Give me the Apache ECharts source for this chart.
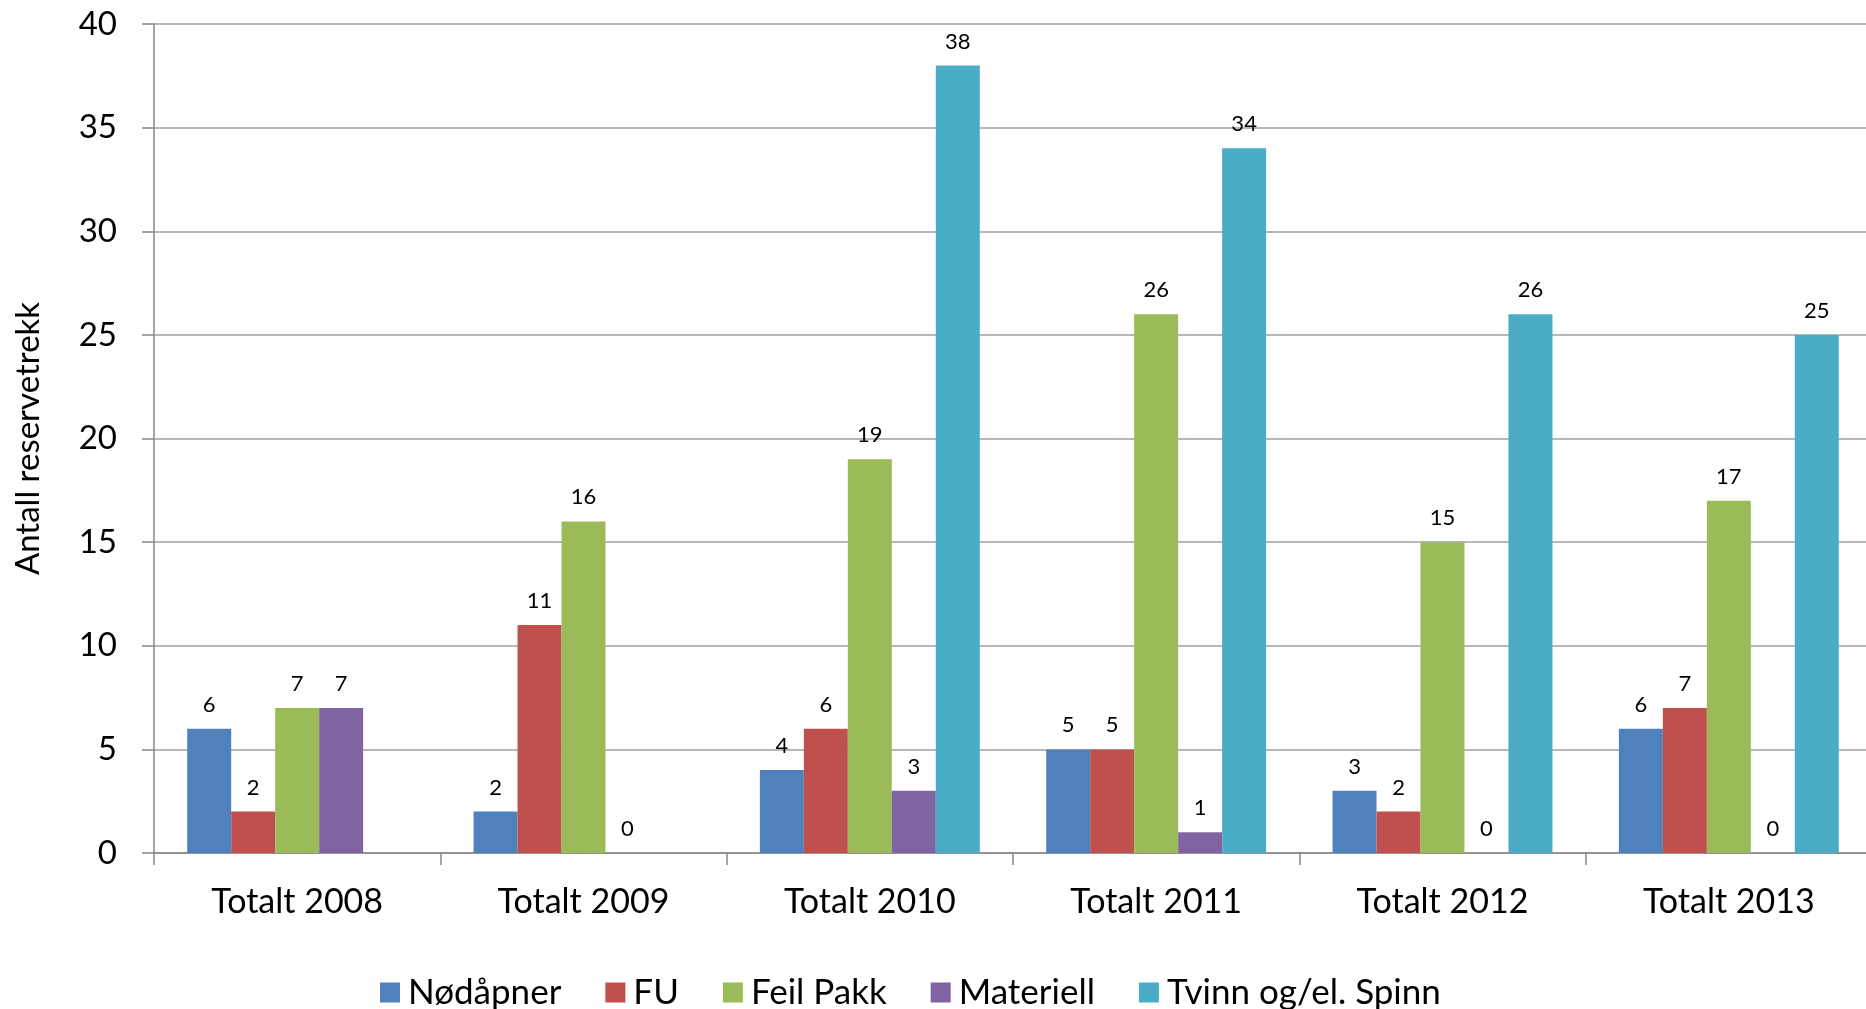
<!DOCTYPE html>
<html>
<head>
<meta charset="utf-8">
<script src="https://cdn.jsdelivr.net/npm/echarts@6/dist/echarts.min.js"></script>
<style>
html,body{margin:0;padding:0;background:#fff;overflow:hidden;}
#c{width:1872px;height:1009px;}
</style>
</head>
<body>
<div id="c"></div>
<script>
const categories = ['Totalt 2008','Totalt 2009','Totalt 2010','Totalt 2011','Totalt 2012','Totalt 2013'];
const seriesNames = ['Nødåpner','FU','Feil Pakk','Materiell','Tvinn og/el. Spinn'];
const nodapner = [6, 2, 4, 5, 3, 6];
const fu = [2, 11, 6, 5, 2, 7];
const feilPakk = [7, 16, 19, 26, 15, 17];
const materiell = [7, 0, 3, 1, 0, 0];
const tvinn = [null, null, 38, 34, 26, 25];
const yTicks = {min: 0, max: 40, interval: 5};
const colors = ['#4F81BD','#C0504D','#9BBB59','#8064A2','#4BACC6'];

const FONT = 'Lato';
const values = [nodapner, fu, feilPakk, materiell, tvinn];

const chart = echarts.init(document.getElementById('c'));
chart.setOption({
  animation: false,
  color: colors,
  textStyle: {fontFamily: FONT},
  grid: {left: 154, right: 0, top: 24, bottom: 156, containLabel: false},
  legend: {
    left: 375, top: 970,
    itemWidth: 20, itemHeight: 20, itemGap: 44,
    icon: 'rect',
    textStyle: {fontFamily: FONT, fontSize: 35, color: '#000', padding: [0,0,0,3]},
    data: seriesNames
  },
  xAxis: {
    type: 'category',
    data: categories,
    axisLine: {lineStyle: {color: '#868686', width: 1.5}},
    axisTick: {show: true, length: 12, lineStyle: {color: '#868686', width: 1.5}},
    axisLabel: {fontFamily: FONT, fontSize: 34, color: '#000', margin: 32}
  },
  yAxis: {
    type: 'value',
    min: yTicks.min, max: yTicks.max, interval: yTicks.interval,
    name: 'Antall reservetrekk',
    nameLocation: 'middle', nameRotate: 90, nameGap: 109,
    nameTextStyle: {fontFamily: FONT, fontSize: 33, color: '#000'},
    axisLine: {show: true, lineStyle: {color: '#868686', width: 1.5}},
    axisTick: {show: true, length: 12, lineStyle: {color: '#868686', width: 1.5}},
    splitLine: {lineStyle: {color: '#a0a0a0', width: 1.5}},
    axisLabel: {fontFamily: FONT, fontSize: 33, color: '#000', margin: 37}
  },
  series: seriesNames.map((n, i) => ({
    name: n,
    type: 'bar',
    data: values[i],
    barGap: '0%',
    barCategoryGap: '23.2%',
    label: {
      show: true, position: 'top', distance: 13,
      fontFamily: FONT, fontSize: 22, color: '#000',
      formatter: p => (p.value === null || p.value === undefined) ? '' : p.value
    }
  }))
});
</script>
</body>
</html>
